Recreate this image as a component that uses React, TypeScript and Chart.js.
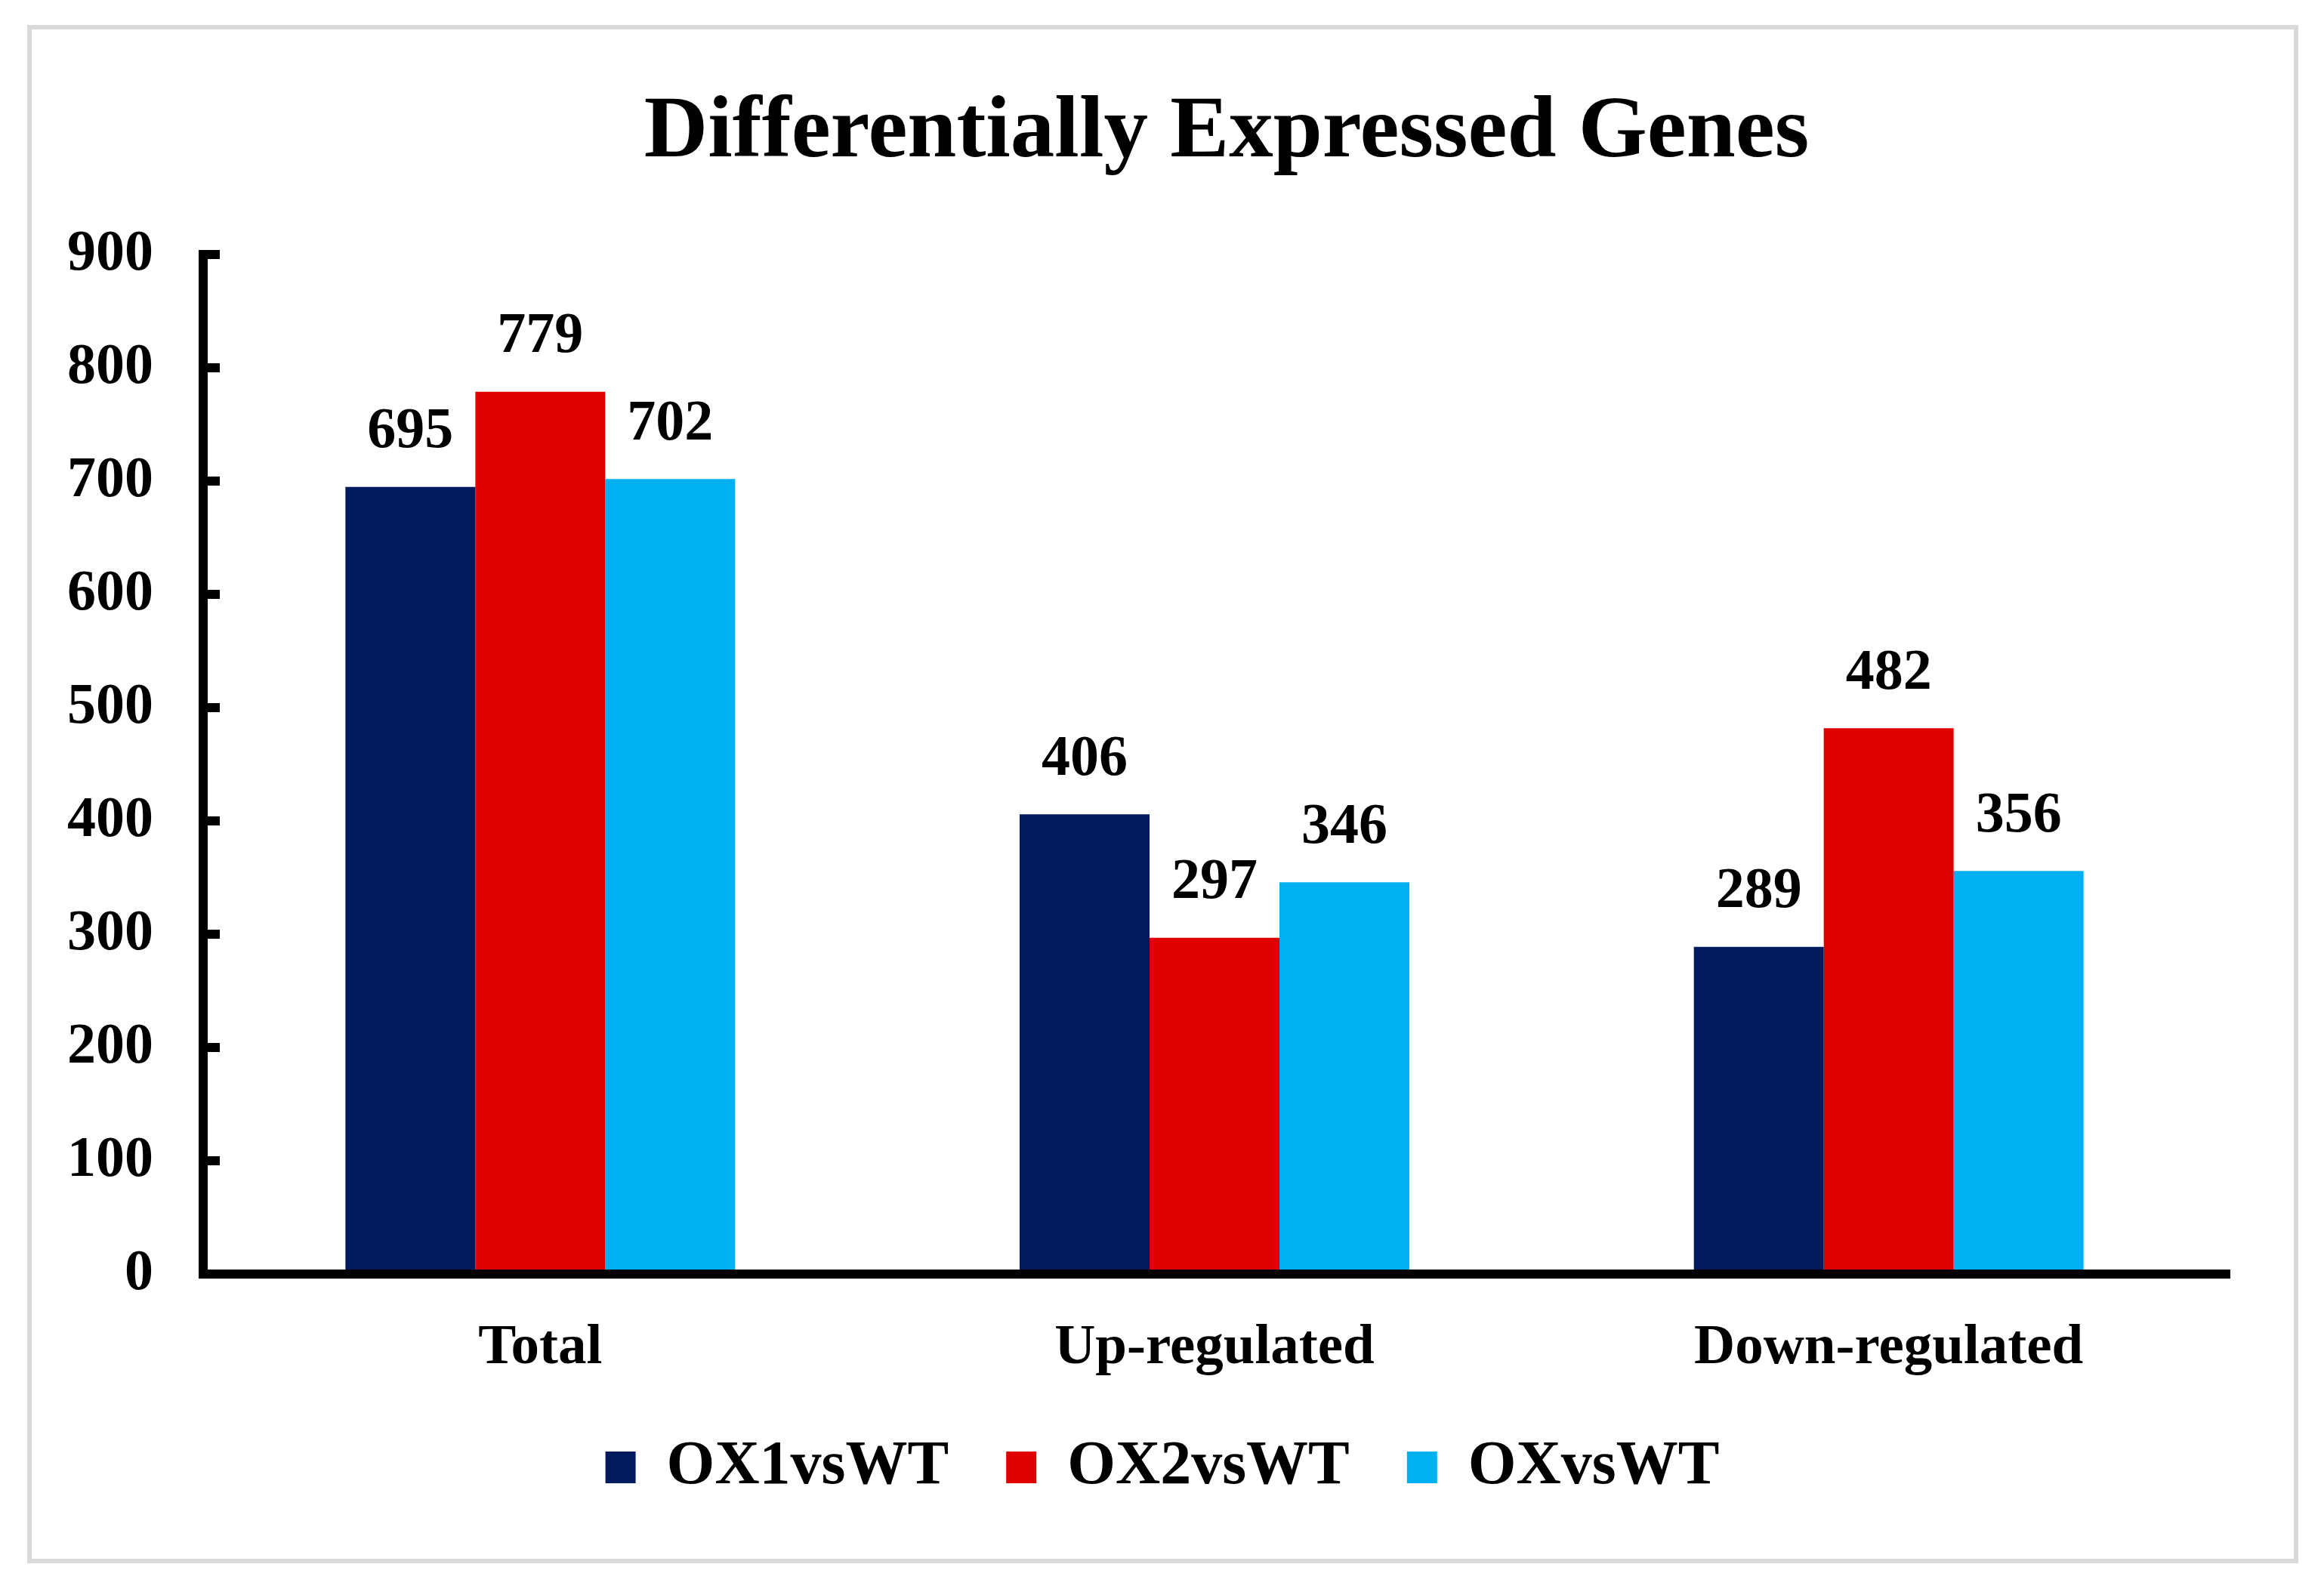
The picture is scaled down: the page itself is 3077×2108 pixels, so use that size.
import React, { useRef, useEffect } from "react";
import { Chart, registerables } from "chart.js";

Chart.register(...registerables);

const categories = ["Total", "Up-regulated", "Down-regulated"];
const seriesNames = ["OX1vsWT", "OX2vsWT", "OXvsWT"];
const ox1Values = [695, 406, 289];
const ox2Values = [779, 297, 482];
const oxValues = [702, 346, 356];
const yTicks = [0, 100, 200, 300, 400, 500, 600, 700, 800, 900];

const seriesColors = ["#011A5E", "#E00000", "#00B0F0"];
const FONT = '"Liberation Serif", "Times New Roman", serif';

const W = 3077;
const H = 2108;

// numbers over each bar
const valueLabels = {
  id: "valueLabels",
  afterDatasetsDraw(chart: any) {
    const ctx = chart.ctx;
    ctx.save();
    ctx.font = `bold 76px ${FONT}`;
    ctx.fillStyle = "#000";
    ctx.textAlign = "center";
    ctx.textBaseline = "middle";
    chart.data.datasets.forEach((ds: any, i: number) => {
      const meta = chart.getDatasetMeta(i);
      meta.data.forEach((bar: any, j: number) => {
        ctx.fillText(String(ds.data[j]), bar.x, bar.y - 72);
      });
    });
    ctx.restore();
  },
};

// title and legend are not centred on the same x in the original,
// and the legend sits a bit closer to the category labels
const placeBoxes = {
  id: "placeBoxes",
  afterLayout(chart: any) {
    const move = (box: any, cx: number, dy: number) => {
      if (!box) return;
      const d = cx - (box.left + box.right) / 2;
      box.left += d;
      box.right += d;
      box.top += dy;
      box.bottom += dy;
    };
    move(chart.titleBlock, 1624, 0);
    move(chart.legend, 1539, -11);
  },
};

const App: React.FC = () => {
  const chartRef = useRef<HTMLCanvasElement | null>(null);
  const chartInstanceRef = useRef<Chart | null>(null);

  useEffect(() => {
    if (!chartRef.current) return;
    if (chartInstanceRef.current) chartInstanceRef.current.destroy();

    const allValues = [ox1Values, ox2Values, oxValues];

    chartInstanceRef.current = new Chart(chartRef.current, {
      type: "bar",
      data: {
        labels: categories,
        datasets: seriesNames.map((name, i) => ({
          label: name,
          data: allValues[i],
          backgroundColor: seriesColors[i],
          borderWidth: 0,
          barPercentage: 1,
          categoryPercentage: 0.578,
        })),
      },
      options: {
        responsive: false,
        animation: false,
        devicePixelRatio: 1,
        layout: { padding: { left: 0, right: 130, top: 0, bottom: 103 } },
        plugins: {
          title: {
            display: true,
            text: "Differentially Expressed Genes",
            color: "#000",
            font: { family: FONT, size: 117, weight: "bold" },
            padding: { top: 107, bottom: 90 },
          },
          legend: {
            position: "bottom",
            labels: {
              color: "#000",
              font: { family: FONT, size: 82, weight: "bold" },
              boxWidth: 40,
              boxHeight: 42,
              padding: 76,
            },
          },
          tooltip: { enabled: false },
        },
        scales: {
          x: {
            grid: { drawOnChartArea: false, drawTicks: false, lineWidth: 12, color: "#000" },
            border: { display: true, color: "#000", width: 12 },
            ticks: {
              color: "#000",
              font: { family: FONT, size: 75, weight: "bold" },
              padding: 54,
            },
            afterFit: (scale: any) => {
              scale.height = 150;
            },
          },
          y: {
            min: yTicks[0],
            max: yTicks[yTicks.length - 1],
            grid: {
              drawOnChartArea: false,
              drawTicks: true,
              tickLength: -22,
              lineWidth: 12,
              color: "#000",
            },
            border: { display: true, color: "#000", width: 12 },
            ticks: {
              stepSize: yTicks[1] - yTicks[0],
              color: "#000",
              font: { family: FONT, size: 76, weight: "bold" },
              padding: 88,
            },
            afterFit: (scale: any) => {
              scale.width = 269;
            },
          },
        },
      } as any,
      plugins: [valueLabels, placeBoxes],
    });

    return () => {
      if (chartInstanceRef.current) {
        chartInstanceRef.current.destroy();
        chartInstanceRef.current = null;
      }
    };
  }, []);

  return (
    <div style={{ position: "absolute", left: 0, top: 0, width: W, height: H, background: "#fff" }}>
      <div
        style={{
          position: "absolute",
          left: 36,
          top: 33,
          width: 3007,
          height: 2037,
          boxSizing: "border-box",
          border: "6px solid #d9d9d9",
        }}
      />
      <canvas
        ref={chartRef}
        width={W}
        height={H}
        style={{ position: "absolute", left: 0, top: 0, width: W, height: H }}
      ></canvas>
    </div>
  );
};

export default App;
